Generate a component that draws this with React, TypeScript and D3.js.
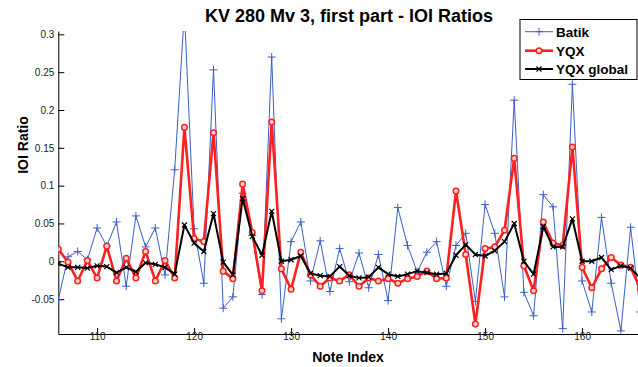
import React, { useEffect, useRef } from 'react';
import * as d3 from 'd3';

// note indices 106..166
const noteIndex: number[] = d3.range(106, 167);

const batik: number[] = [
  -0.051, 0.006, 0.013, 0.002, 0.044, 0.020, 0.052, -0.033, 0.060, 0.019,
  0.044, -0.018, 0.121, 0.33, 0.043, -0.029, 0.253, -0.062, -0.047, 0.09,
  0.034, -0.044, 0.270, -0.076, 0.026, 0.052, -0.026, 0.027, -0.040, 0.017,
  -0.027, 0.011, -0.035, 0.009, -0.052, 0.071, 0.021, -0.014, 0.012, 0.026,
  -0.033, 0.021, 0.037, -0.053, 0.075, 0.037, -0.047, 0.213, -0.041, -0.072,
  0.088, 0.072, -0.089, 0.234, -0.026, -0.067, 0.058, -0.029, -0.092, 0.045,
  -0.067,
];

const yqx: number[] = [
  0.016, -0.001, -0.026, 0.001, -0.022, 0.020, -0.026, 0.004, -0.022, 0.013,
  -0.026, 0.001, -0.022, 0.177, 0.030, 0.026, 0.170, -0.013, -0.023, 0.102,
  0.038, -0.039, 0.184, -0.010, -0.037, 0.012, -0.018, -0.033, -0.022, -0.026,
  -0.018, -0.033, -0.022, -0.026, -0.023, -0.029, -0.023, -0.020, -0.013, -0.023,
  -0.022, 0.093, 0.009, -0.083, 0.017, 0.019, 0.041, 0.136, -0.006, -0.039,
  0.052, 0.024, 0.021, 0.151, -0.008, -0.035, -0.010, 0.005, -0.005, -0.008,
  -0.036,
];

const yqxGlobal: number[] = [
  -0.003, -0.008, -0.008, -0.009, -0.006, -0.007, -0.015, -0.008, -0.014, -0.002,
  -0.004, -0.008, -0.017, 0.048, 0.024, 0.013, 0.063, -0.001, -0.018, 0.083,
  0.033, 0.008, 0.066, 0.000, 0.002, 0.007, -0.016, -0.019, -0.020, -0.007,
  -0.019, -0.022, -0.021, -0.008, -0.017, -0.020, -0.017, -0.013, -0.015, -0.017,
  -0.016, 0.008, 0.022, 0.009, 0.007, 0.014, 0.026, 0.050, 0.000, -0.017,
  0.046, 0.019, 0.019, 0.056, 0.000, 0.000, 0.005, -0.011, -0.006, -0.009,
  -0.022,
];

const xTicks: number[] = [110, 120, 130, 140, 150, 160];
const yTicks: number[] = [-0.05, 0, 0.05, 0.1, 0.15, 0.2, 0.25, 0.3];
const seriesNames: string[] = ['Batik', 'YQX', 'YQX global'];

const App = () => {
  const ref = useRef<SVGSVGElement | null>(null);

  useEffect(() => {
    if (!ref.current) return;
    const W = 638, H = 367;
    const left = 58.3, right = 640.3, top = 31, bottom = 334;

    const svg = d3.select(ref.current);
    svg.selectAll('*').remove();

    const x = d3.scaleLinear().domain([106, 166]).range([left, right]);
    const y = d3.scaleLinear().domain([-0.0961, 0.3044]).range([bottom, top]);

    svg.append('rect').attr('width', W).attr('height', H).attr('fill', '#fff');

    svg.append('defs').append('clipPath').attr('id', 'plotclip')
      .append('rect')
      .attr('x', left).attr('y', top)
      .attr('width', W - left).attr('height', bottom - top);

    const tickFont = 'Liberation Sans Narrow, Liberation Sans, Arial, sans-serif';

    // x axis
    const gx = svg.append('g')
      .attr('transform', `translate(0,${bottom})`)
      .call(d3.axisBottom(x).tickValues(xTicks).tickSizeInner(-6).tickSizeOuter(0).tickPadding(5));
    gx.select('.domain').attr('stroke', '#000');
    gx.selectAll('.tick line').attr('stroke', '#000');
    gx.selectAll('.tick text')
      .attr('font-family', tickFont).attr('font-size', 10).attr('fill', '#222')
      .attr('dy', '0.2em').attr('y', 3.5);

    // y axis
    const gy = svg.append('g')
      .attr('transform', `translate(${left},0)`)
      .call(d3.axisLeft(y).tickValues(yTicks).tickSizeInner(-6).tickSizeOuter(0).tickPadding(4)
        .tickFormat(d => String(+(+d).toFixed(2))));
    gy.select('.domain').attr('stroke', '#000');
    gy.selectAll('.tick line').attr('stroke', '#000');
    gy.selectAll('.tick text')
      .attr('font-family', tickFont).attr('font-size', 10).attr('fill', '#222')
      .attr('x', -4);

    const plot = svg.append('g').attr('clip-path', 'url(#plotclip)');
    const line = d3.line<number>().x((_, i) => x(noteIndex[i])).y(d => y(d));

    // Batik
    plot.append('path').datum(batik)
      .attr('d', line).attr('fill', 'none')
      .attr('stroke', '#3a5fc8').attr('stroke-width', 1);
    plot.append('g').selectAll('path').data(batik).join('path')
      .attr('d', (d, i) => {
        const cx = x(noteIndex[i]), cy = y(d), s = 4;
        return `M${cx - s},${cy}H${cx + s}M${cx},${cy - s}V${cy + s}`;
      })
      .attr('stroke', '#3a5fc8').attr('stroke-width', 1);

    // YQX
    plot.append('path').datum(yqx)
      .attr('d', line).attr('fill', 'none')
      .attr('stroke', '#ff2020').attr('stroke-width', 2.6).attr('stroke-linejoin', 'round');
    plot.append('g').selectAll('circle').data(yqx).join('circle')
      .attr('cx', (_, i) => x(noteIndex[i])).attr('cy', d => y(d)).attr('r', 2.8)
      .attr('fill', '#ffd6d6').attr('stroke', '#ff2020').attr('stroke-width', 1.5);

    // YQX global
    plot.append('path').datum(yqxGlobal)
      .attr('d', line).attr('fill', 'none')
      .attr('stroke', '#000').attr('stroke-width', 2).attr('stroke-linejoin', 'round');
    plot.append('g').selectAll('path').data(yqxGlobal).join('path')
      .attr('d', (d, i) => {
        const cx = x(noteIndex[i]), cy = y(d), s = 2.5;
        return `M${cx - s},${cy - s}L${cx + s},${cy + s}M${cx - s},${cy + s}L${cx + s},${cy - s}`;
      })
      .attr('stroke', '#000').attr('stroke-width', 1.2);

    const labelFont = 'Liberation Sans, Arial, sans-serif';

    // title and axis labels
    svg.append('text').attr('x', 349).attr('y', 21.5).attr('text-anchor', 'middle')
      .attr('font-family', labelFont).attr('font-weight', 'bold').attr('font-size', 18)
      .text('KV 280 Mv 3, first part - IOI Ratios');
    svg.append('text').attr('x', 348).attr('y', 362).attr('text-anchor', 'middle')
      .attr('font-family', labelFont).attr('font-weight', 'bold').attr('font-size', 14)
      .text('Note Index');
    svg.append('text').attr('transform', 'translate(28,145) rotate(-90)').attr('text-anchor', 'middle')
      .attr('font-family', labelFont).attr('font-weight', 'bold').attr('font-size', 14)
      .text('IOI Ratio');

    // legend
    const lg = svg.append('g');
    lg.append('rect').attr('x', 520).attr('y', 19.5).attr('width', 117).attr('height', 60)
      .attr('fill', '#fff').attr('stroke', '#000').attr('stroke-width', 1);
    const rows = [31.7, 50.7, 69];
    const colors = ['#3a5fc8', '#ff2020', '#000'];
    const widths = [1, 2.6, 2];
    seriesNames.forEach((name, k) => {
      const ry = rows[k];
      lg.append('line').attr('x1', 525).attr('x2', 553).attr('y1', ry).attr('y2', ry)
        .attr('stroke', colors[k]).attr('stroke-width', widths[k]);
      if (k === 0) {
        lg.append('path').attr('d', `M535,${ry}H543M539,${ry - 4}V${ry + 4}`)
          .attr('stroke', colors[k]).attr('stroke-width', 1);
      } else if (k === 1) {
        lg.append('circle').attr('cx', 539).attr('cy', ry).attr('r', 2.8)
          .attr('fill', '#ffd6d6').attr('stroke', colors[k]).attr('stroke-width', 1.5);
      } else {
        lg.append('path').attr('d', `M536.5,${ry - 2.5}L541.5,${ry + 2.5}M536.5,${ry + 2.5}L541.5,${ry - 2.5}`)
          .attr('stroke', '#000').attr('stroke-width', 1.2);
      }
      lg.append('text').attr('x', 556).attr('y', ry + 5)
        .attr('font-family', labelFont).attr('font-weight', 'bold').attr('font-size', 13.5)
        .text(name);
    });
  }, []);

  return (
    <svg ref={ref} width={638} height={367}
      style={{ position: 'absolute', left: 0, top: 0, display: 'block' }} />
  );
};

export default App;
